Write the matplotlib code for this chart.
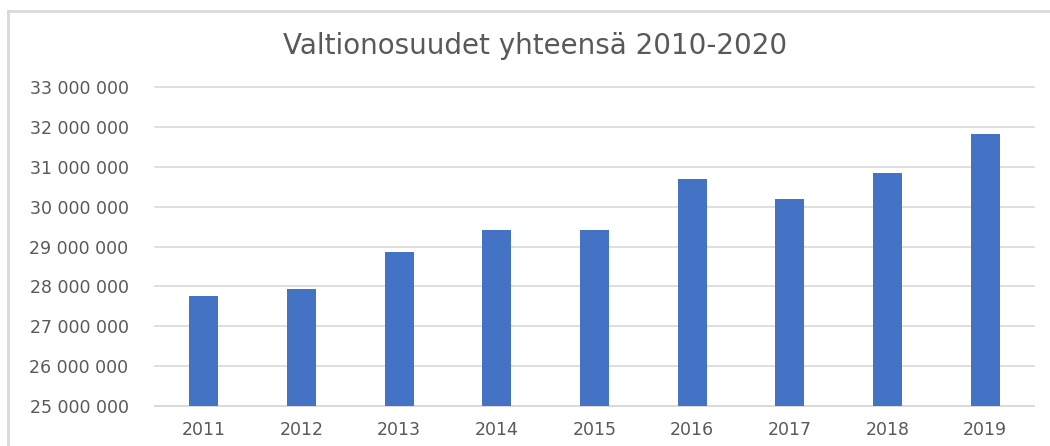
import matplotlib.pyplot as plt
from matplotlib.lines import Line2D

# Valtionosuudet yhteensä (arvioitu kuvasta)
years = ["2011", "2012", "2013", "2014", "2015", "2016", "2017", "2018", "2019"]
values = [27770000, 27930000, 28870000, 29420000, 29420000,
          30690000, 30180000, 30840000, 31830000]
yticks = list(range(25000000, 33000001, 1000000))

plt.rcParams['font.family'] = ['DejaVu Sans']

fig = plt.figure(figsize=(10.5, 4.46), dpi=100)
ax = fig.add_axes([155 / 1050, 1 - 406 / 446, (1034 - 155) / 1050, (406 - 87) / 446])

ax.bar(range(len(years)), values, width=0.3, color="#4472C4", zorder=3)

ax.set_ylim(25000000, 33000000)
ax.set_xlim(-0.5, len(years) - 0.5)
ax.set_yticks(yticks)
ax.set_yticklabels([f"{v:,}".replace(",", " ") for v in yticks])
ax.set_xticks(range(len(years)))
ax.set_xticklabels(years)

ax.grid(axis="y", color="#d9d9d9", linewidth=1.2, zorder=0)
for gl in ax.get_ygridlines():
    gl.set_clip_on(False)
for s in ["top", "right", "left"]:
    ax.spines[s].set_visible(False)
ax.spines["bottom"].set_color("#d9d9d9")
ax.spines["bottom"].set_linewidth(1.2)
ax.tick_params(axis="both", length=0, colors="#595959", labelsize=12.5)
ax.tick_params(axis="y", pad=19)
ax.tick_params(axis="x", pad=11)

fig.text(535 / 1050, 1 - 46 / 446, "Valtionosuudet yhteensä 2010-2020",
         ha="center", va="center", fontsize=20, color="#595959")

# kaavion reunus (vain vasen ja ylä näkyvissä)
top_y = 1 - 11 / 446
left_x = 8 / 1050
fig.lines.append(Line2D([left_x, 1.0], [top_y, top_y], transform=fig.transFigure,
                        color="#d9d9d9", linewidth=2))
fig.lines.append(Line2D([left_x, left_x], [0.0, top_y], transform=fig.transFigure,
                        color="#d9d9d9", linewidth=2))

fig.savefig("out.png", dpi=100)
